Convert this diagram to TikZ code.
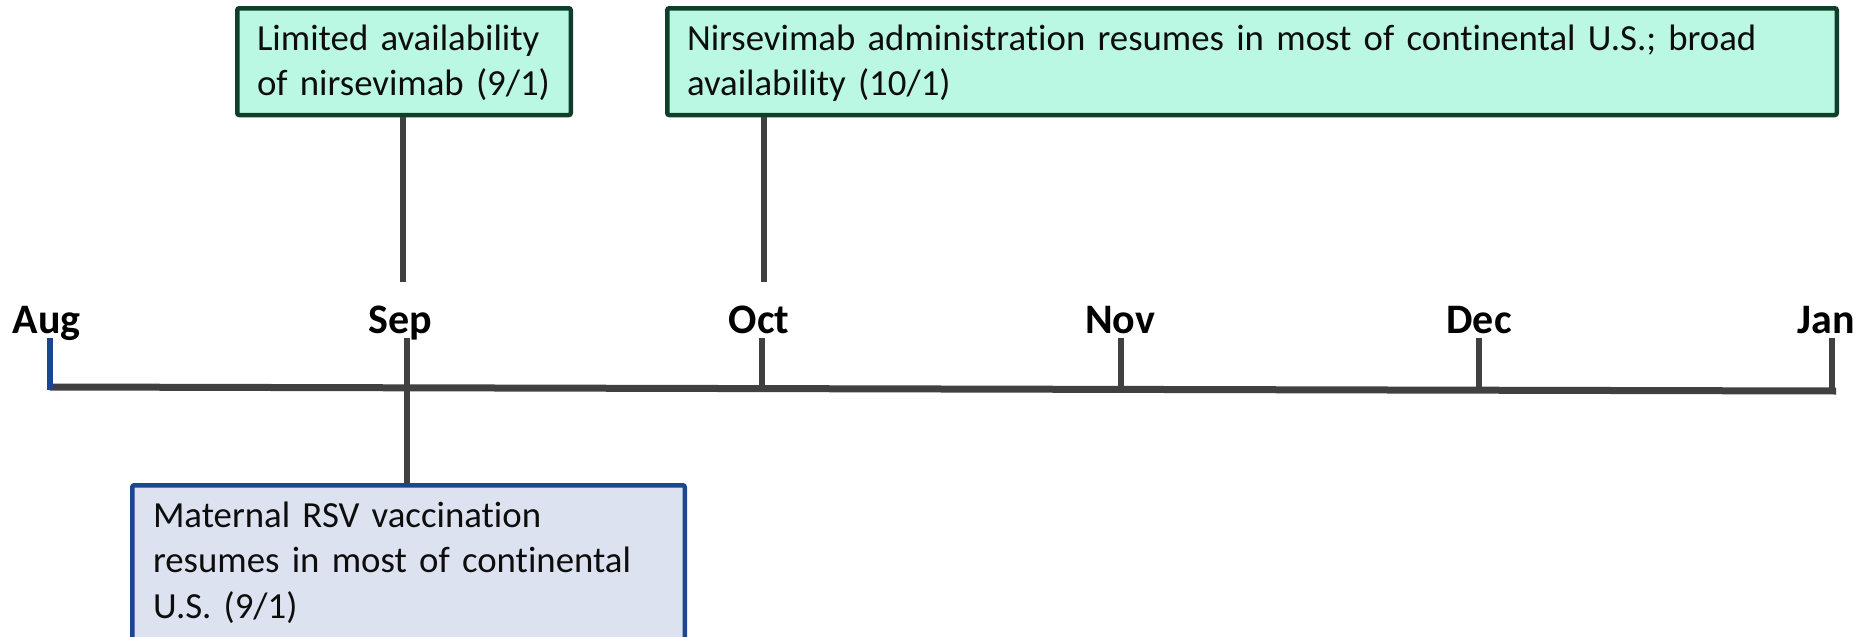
\documentclass[tikz,border=0pt]{standalone}
\usepackage{fontspec}
\setmainfont{Carlito}[Ligatures=NoCommon]
\usepackage{tikz}

\definecolor{axisgray}{RGB}{64,64,64}
\definecolor{boxgreen}{RGB}{14,63,43}
\definecolor{mintfill}{RGB}{186,248,228}
\definecolor{boxblue}{RGB}{28,70,143}
\definecolor{bluefill}{RGB}{220,226,240}
\definecolor{inktext}{RGB}{13,13,13}

\DeclareRobustCommand\boxfont{\fontsize{18.4}{22.75}\selectfont\spaceskip=0.9\fontdimen2\font\relax}

\tikzset{
  monthlabel/.style={anchor=base, inner sep=0pt, font=\fontsize{21}{25}\selectfont\bfseries},
  eventbox/.style={anchor=north west, line width=2.25pt, rounded corners=1pt, align=left,
    inner xsep=9.875pt, inner ysep=7.5pt, text height=13.5pt, text=inktext, font=\boxfont},
  greenbox/.style={eventbox, draw=boxgreen, fill=mintfill, text depth=24.875pt},
  bluebox/.style={eventbox, draw=boxblue, fill=bluefill, inner xsep=10.375pt, text depth=56pt},
  stem/.style={draw=axisgray, line width=2.75pt}
}

\begin{document}
\begin{tikzpicture}[x=0.5pt,y=0.5pt,yscale=-1,xscale=1]
\useasboundingbox (0,0) rectangle (1869,637);
\clip (0,0) rectangle (1869,637);

\coordinate (aug) at (50,387);
\coordinate (sep) at (407,387.8);
\coordinate (oct) at (762,388.6);
\coordinate (nov) at (1121,389.4);
\coordinate (dec) at (1479,390.2);
\coordinate (jan) at (1836,391);

\coordinate (augtop) at (50,338);
\coordinate (septop) at (407,338);
\coordinate (octtop) at (762,338);
\coordinate (novtop) at (1121,338);
\coordinate (dectop) at (1479,338);
\coordinate (jantop) at (1832,338);
\coordinate (janbase) at (1832,391);

\coordinate (sepstem) at (403,282);
\coordinate (octstem) at (764,282);

\draw [color=axisgray, line width=3.5pt] (aug) -- (jan);
\draw [color=boxblue, line width=2.75pt] (augtop) -- ([yshift=1.5]aug);
\draw [stem] (septop) -- (sep);
\draw [stem] (octtop) -- (oct);
\draw [stem] (novtop) -- (nov);
\draw [stem] (dectop) -- (dec);
\draw [stem] (jantop) -- ([yshift=1.5]janbase);

\node [monthlabel] (auglabel) at (46.5,333) {Aug};
\node [monthlabel] (seplabel) at (400,333) {Sep};
\node [monthlabel] (octlabel) at (759,333) {Oct};
\node [monthlabel] (novlabel) at (1120,333) {Nov};
\node [monthlabel] (declabel) at (1479,333) {Dec};
\node [monthlabel] (janlabel) at (1826,333) {Jan};

\node [greenbox, text width=147pt] (limited) at (235,6) {Limited availability\\of nirsevimab (9/1)};
\node [greenbox, text width=565pt] (resumes) at (665,6) {Nirsevimab administration resumes in most of continental U.S.; broad availability (10/1)};
\node [bluebox, text width=255.5pt] (maternal) at (130,483) {Maternal RSV vaccination\\resumes in most of continental\\U.S. (9/1)};

\draw [stem] (limited.south -| sepstem) -- (sepstem);
\draw [stem] (resumes.south -| octstem) -- (octstem);
\draw [stem] (sep) -- (sep |- maternal.north);

\end{tikzpicture}
\end{document}
